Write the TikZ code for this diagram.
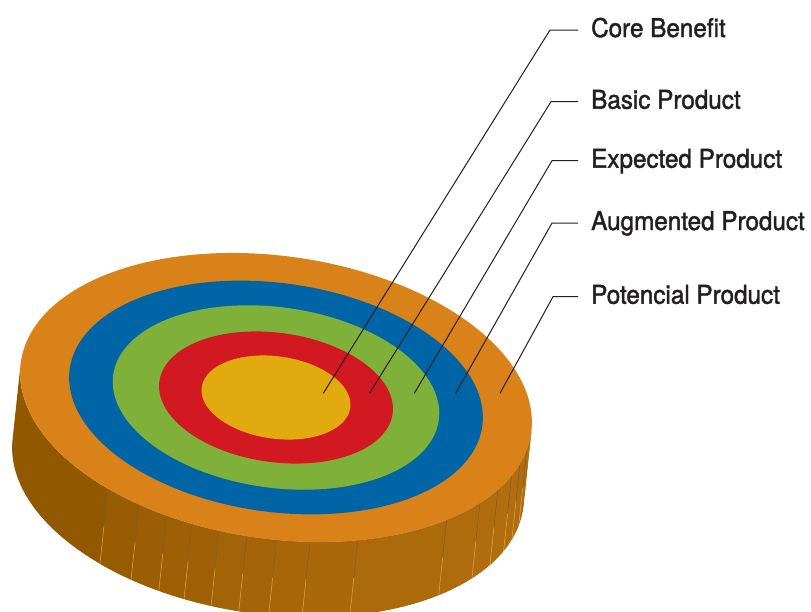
\documentclass[tikz,border=0pt]{standalone}
\usepackage{fontspec}
\setmainfont{TeX Gyre Heros}[FakeStretch=0.94,FakeBold=1.6]
\definecolor{cOrange}{RGB}{218,130,26}
\definecolor{cBlue}{RGB}{0,101,166}
\definecolor{cGreen}{RGB}{127,177,58}
\definecolor{cRed}{RGB}{210,24,32}
\definecolor{cYellow}{RGB}{225,170,15}
\definecolor{sideDark}{RGB}{146,88,0}
\definecolor{sideLight}{RGB}{180,110,14}
\definecolor{lineDark}{RGB}{110,96,72}
\definecolor{lineLight}{RGB}{226,176,104}
\definecolor{ink}{RGB}{35,31,32}
\pgfmathdeclarefunction{ex}{2}{\pgfmathparse{276+#1*(257.6*cos(#2)*0.99051-141.5*sin(#2)*0.13744)}}
\pgfmathdeclarefunction{ey}{2}{\pgfmathparse{397.5+#1*(257.6*cos(#2)*0.13744+141.5*sin(#2)*0.99051)}}
\tikzset{
  lbl/.style={anchor=base west, inner xsep=13pt, inner ysep=0pt, text=ink,
    font=\fontsize{25.8}{30}\selectfont},
  conn/.style={draw=ink, line width=1pt, line join=miter},
  facetline/.style={line width=0.45pt}
}
\begin{document}
\begin{tikzpicture}[x=1pt,y=-1pt]
\useasboundingbox (0,0) rectangle (811,611);
\clip (0,0) rectangle (811,611);
% side of the disc
\fill[sideDark] plot[domain=-1:179,samples=120,variable=\t] ({ex(1,\t)},{ey(1,\t)})
  -- plot[domain=179:-1,samples=120,variable=\t] ({ex(1,\t)-8},{ey(1,\t)+75}) -- cycle;
\foreach \ta/\tb/\p in {126.7/118/18, 118/110.9/26, 110.9/104.8/34, 104.8/98.5/42,
  98.5/92.2/50, 92.2/85.5/57, 85.5/78/64, 78/67/71, 67/43.8/80, 43.8/32.8/88,
  32.8/25.5/92, 25.5/18.6/94, 18.6/13.2/94, 13.2/7.2/92, 7.2/-1/90}{
  \fill[sideLight!\p!sideDark] plot[domain=\ta:\tb,samples=20,variable=\t] ({ex(1,\t)},{ey(1,\t)})
    -- plot[domain=\tb:\ta,samples=20,variable=\t] ({ex(1,\t)-8},{ey(1,\t)+75}) -- cycle;
}
\foreach \t in {126.7,118,110.9,104.8,98.5,92.2,85.5,78,67,43.8,32.8,25.5,18.6,13.2,7.2}{
  \pgfmathsetmacro{\xa}{ex(1,\t)}
  \pgfmathsetmacro{\ya}{ey(1,\t)}
  \draw[facetline,lineDark] (\xa,\ya) -- ++(-4,37.5);
  \draw[facetline,lineLight] (\xa-4,\ya+37.5) -- ++(-4,37.5);
}
% top face rings
\fill[cOrange] plot[domain=0:360,samples=241,variable=\t] ({ex(1,\t)},{ey(1,\t)}) -- cycle;
\fill[cBlue] plot[domain=0:360,samples=241,variable=\t] ({ex(0.8085,\t)},{ey(0.8085,\t)}) -- cycle;
\fill[cGreen] plot[domain=0:360,samples=241,variable=\t] ({ex(0.638,\t)},{ey(0.638,\t)}) -- cycle;
\fill[cRed] plot[domain=0:360,samples=241,variable=\t] ({ex(0.457,\t)},{ey(0.457,\t)}) -- cycle;
\fill[cYellow] plot[domain=0:360,samples=241,variable=\t] ({ex(0.291,\t)},{ey(0.291,\t)}) -- cycle;
% labels
\node[lbl] (t1) at (578,37) {Core Benefit};
\node[lbl] (t2) at (578,108.7) {Basic Product};
\node[lbl] (t3) at (578,167.7) {Expected Product};
\node[lbl] (t4) at (578,230) {Augmented Product};
\node[lbl] (t5) at (578,303.7) {Potencial Product};
% connector points
\coordinate (p1) at (323.3,393.3);
\coordinate (p2) at (369.5,393.3);
\coordinate (p3) at (414.3,393.3);
\coordinate (p4) at (455.7,393.3);
\coordinate (p5) at (500,393.3);
\coordinate (k1) at (550,30);
\coordinate (k2) at (551,101.7);
\coordinate (k3) at (552,160.7);
\coordinate (k4) at (552,223);
\coordinate (k5) at (553,296.7);
\draw[conn] (p1) -- (k1) -- (k1 -| t1.west);
\draw[conn] (p2) -- (k2) -- (k2 -| t2.west);
\draw[conn] (p3) -- (k3) -- (k3 -| t3.west);
\draw[conn] (p4) -- (k4) -- (k4 -| t4.west);
\draw[conn] (p5) -- (k5) -- (k5 -| t5.west);
\end{tikzpicture}
\end{document}
